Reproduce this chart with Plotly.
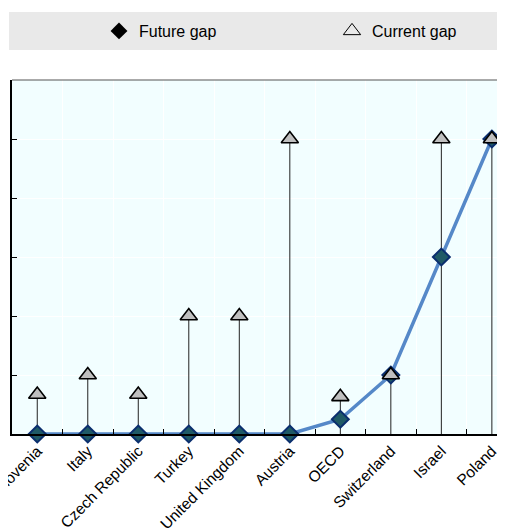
import plotly.graph_objects as go

categories = ["Slovenia", "Italy", "Czech Republic", "Turkey", "United Kingdom",
              "Austria", "OECD", "Switzerland", "Israel", "Poland"]
future_gap = [0, 0, 0, 0, 0, 0, 0.25, 1, 3, 5]
current_gap = [0.67, 1, 0.67, 2, 2, 5, 0.63, 1, 5, 5]

FONT = "Liberation Sans, Arial, sans-serif"

# stems from 0 to current gap
sx, sy = [], []
for c, v in zip(categories, current_gap):
    sx += [c, c, None]
    sy += [0, v, None]

fig = go.Figure()
fig.add_trace(go.Scatter(x=sx, y=sy, mode="lines", line=dict(color="#222222", width=1),
                         showlegend=False, hoverinfo="skip"))
fig.add_trace(go.Scatter(x=categories, y=future_gap, mode="lines+markers",
                         line=dict(color="#5588C8", width=3.5),
                         marker=dict(symbol="diamond", size=13, color="#1F5A66",
                                     line=dict(color="#0A2E6E", width=2)),
                         cliponaxis=False, showlegend=False))
fig.add_trace(go.Scatter(x=categories, y=current_gap, mode="markers",
                         marker=dict(symbol="triangle-up", size=15, color="#BFBFBF",
                                     line=dict(color="#000000", width=1.6)),
                         cliponaxis=False, showlegend=False))
# legend entries
fig.add_trace(go.Scatter(x=[None], y=[None], mode="markers", name="Future gap",
                         legend="legend",
                         marker=dict(symbol="diamond", size=13, color="#000000")))
fig.add_trace(go.Scatter(x=[None], y=[None], mode="markers", name="Current gap",
                         legend="legend2",
                         marker=dict(symbol="triangle-up-open", size=15, color="#000000",
                                     line=dict(width=1))))

# page has an 8px body margin; figure is sized so the plot lands where the reference has it
W, H = 497, 522
PL, PT, PB = 4, 72, 426  # plot left, top, bottom in figure px
ph = PB - PT
pw = W - PL


def py(v):
    return (PB - v) / ph


def px(v):
    return (v - PL) / pw


leg_common = dict(orientation="h", y=py(31 - 8), xanchor="left", yanchor="middle",
                  bgcolor="rgba(0,0,0,0)", font=dict(size=16))
fig.update_layout(
    width=W, height=H,
    margin=dict(l=PL, r=0, t=PT, b=H - PB, autoexpand=False),
    paper_bgcolor="white", plot_bgcolor="#F2FEFF",
    font=dict(family=FONT, size=16, color="#000000"),
    showlegend=True,
    legend=dict(x=px(99 - 8), **leg_common),
    legend2=dict(x=px(332 - 8), **leg_common),
    shapes=[
        dict(type="rect", xref="paper", yref="paper", x0=px(9 - 8), x1=1.0,
             y0=py(50 - 8), y1=py(12 - 8),
             fillcolor="#E9E9E9", line=dict(width=0), layer="below"),
        dict(type="line", xref="paper", yref="paper", x0=0, x1=1, y0=1, y1=1,
             line=dict(color="#555555", width=1)),
    ],
)
fig.update_xaxes(
    categoryorder="array", categoryarray=categories, automargin=False,
    range=[-0.5, 9.26], tickson="boundaries", ticks="inside", ticklen=5,
    tickcolor="#000000", tickangle=-45, showgrid=True, gridcolor="white", gridwidth=1,
    showline=True, linecolor="#000000", linewidth=2, zeroline=False,
    tickfont=dict(size=15.5),
)
fig.update_yaxes(
    range=[0, 6], dtick=1, showticklabels=False, ticks="inside", ticklen=5, automargin=False,
    tickcolor="#000000", showgrid=True, gridcolor="white", gridwidth=1,
    showline=True, linecolor="#000000", linewidth=2, zeroline=False,
)

fig.write_html("out.html")
